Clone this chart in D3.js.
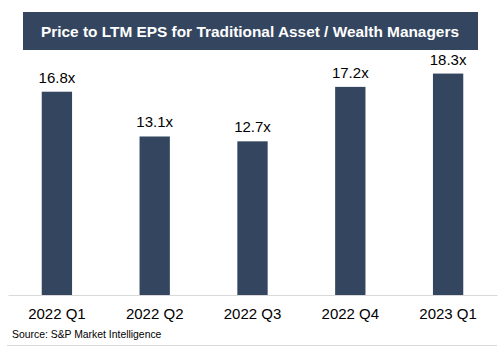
<!DOCTYPE html>
<html>
<head>
<meta charset="utf-8">
<script src="https://cdn.jsdelivr.net/npm/d3@7"></script>
<style>
  html, body { margin: 0; padding: 0; background: #fff; }
  svg { display: block; font-family: "Liberation Sans", Arial, sans-serif; }
</style>
</head>
<body>
<svg id="chart" width="500" height="346"></svg>
<script>
// Price to LTM EPS by quarter
const categories = ["2022 Q1", "2022 Q2", "2022 Q3", "2022 Q4", "2023 Q1"];
const values = [16.8, 13.1, 12.7, 17.2, 18.3];
const valueLabels = ["16.8x", "13.1x", "12.7x", "17.2x", "18.3x"];
const titleText = "Price to LTM EPS for Traditional Asset / Wealth Managers";
const sourceText = "Source: S&P Market Intelligence";

const navy = "#34465f";
const svg = d3.select("#chart");

// Title banner
svg.append("rect")
  .attr("x", 23).attr("y", 12).attr("width", 455).attr("height", 38)
  .attr("fill", navy);
svg.append("text")
  .attr("x", 250).attr("y", 37)
  .attr("text-anchor", "middle")
  .attr("fill", "#fff")
  .attr("font-weight", "bold")
  .attr("font-size", 15.4)
  .text(titleText);

const x = d3.scaleBand()
  .domain(categories)
  .range([8, 497])
  .paddingInner(0.69)
  .paddingOuter(0.345);

const y = d3.scaleLinear()
  .domain([0, 20])
  .range([295, 53]);

// Bars
svg.append("g").selectAll("rect")
  .data(values)
  .join("rect")
  .attr("x", (d, i) => x(categories[i]))
  .attr("y", d => y(d))
  .attr("width", x.bandwidth())
  .attr("height", d => y(0) - y(d))
  .attr("fill", navy);

// Value labels above bars
svg.append("g").selectAll("text")
  .data(values)
  .join("text")
  .attr("x", (d, i) => x(categories[i]) + x.bandwidth() / 2)
  .attr("y", d => y(d) - 9)
  .attr("text-anchor", "middle")
  .attr("font-size", 15)
  .attr("fill", "#000")
  .text((d, i) => valueLabels[i]);

// Category axis
const axis = svg.append("g")
  .attr("transform", `translate(0,${y(0)})`)
  .call(d3.axisBottom(x).tickSize(0).tickPadding(13));
axis.select(".domain").attr("stroke", "#d9d9d9").attr("stroke-width", 1);
axis.selectAll("text")
  .attr("font-size", 15)
  .attr("fill", "#000")
  .attr("font-family", "Liberation Sans, Arial, sans-serif");

// Source note and rule beneath it
svg.append("text")
  .attr("x", 12).attr("y", 338)
  .attr("font-size", 10.4)
  .attr("fill", "#000")
  .text(sourceText);
svg.append("line")
  .attr("x1", 7).attr("x2", 497)
  .attr("y1", 345.5).attr("y2", 345.5)
  .attr("stroke", "#d9d9d9");
</script>
</body>
</html>
